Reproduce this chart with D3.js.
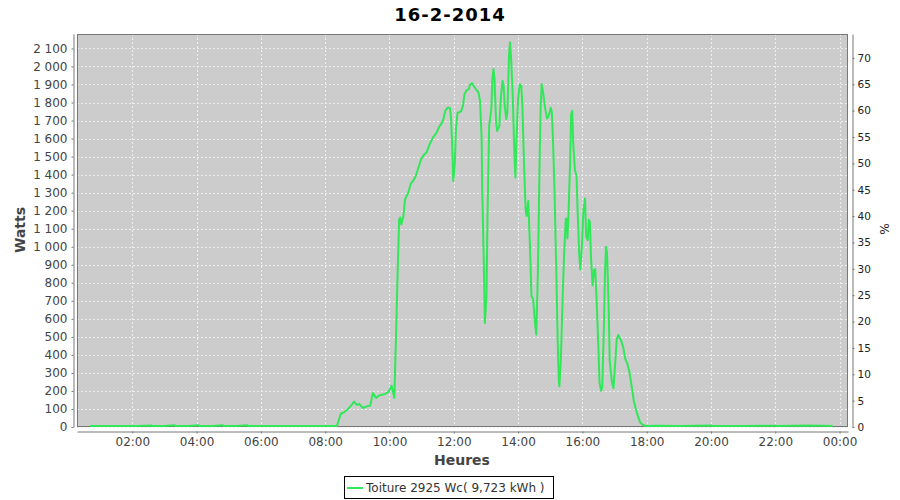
<!DOCTYPE html>
<html><head><meta charset="utf-8">
<script src="https://cdn.jsdelivr.net/npm/d3@7"></script>
<style>body{margin:0;background:#fff}svg{display:block;font-family:"DejaVu Sans",sans-serif}</style>
</head><body><svg id="c" width="900" height="500"></svg>
<script>
const chartTitle = "16-2-2014";
const seriesName = "Toiture 2925 Wc( 9,723 kWh )";
const peakPower = 2925;
const xLabel = "Heures";
const yLabel = "Watts";
const y2Label = "%";
const xTicks = [120, 240, 360, 480, 600, 720, 840, 960, 1080, 1200, 1320, 1440];
const yTicks = [0,100,200,300,400,500,600,700,800,900,1000,1100,1200,1300,1400,1500,1600,1700,1800,1900,2000,2100];
const pctTicks = [0,5,10,15,20,25,30,35,40,45,50,55,60,65,70];

// minutes since midnight
const times = [
  41,70,100,130,155,158,180,198,201,225,243,246,270,288,291,315,334,337,360,400,440,480,502,
  509,515,520,527,534,539,544,550,558,564,
  569,575,581,592,598,604,609,612,615,618,
  620,622,626,629,632,635,640,644,649,653,
  659,664,669,675,681,688,692,698,701,704,
  709,713,715,717,719,722,724,727,730,734,
  737,740,744,748,750,754,757,761,766,769,
  772,773,776,778,781,783,786,790,792,794,
  796,799,801,805,808,811,813,815,818,820,
  823,825,827,830,833,835,837,840,843,846,
  848,851,854,856,859,862,865,868,872,874,
  877,880,882,884,887,890,894,897,901,903,
  905,908,911,914,916,917,920,923,926,929,
  931,932,934,937,939,941,943,946,949,951,
  954,956,959,962,965,967,970,972,974,976,
  979,982,984,987,990,992,995,997,1000,1002,
  1004,1006,1009,1011,1015,1018,1021,1024,1027,1032,
  1036,1040,1044,1048,1052,1056,1061,1064,1068,1073,
  1078,1100,1140,1200,1203,1260,1320,1323,1380,1427
];
const watts = [
  0,0,0,0,3,0,0,4,0,0,4,0,0,4,0,0,4,0,0,0,0,0,0,
  68,76,87,109,135,117,122,100,109,113,
  183,156,170,178,189,224,156,480,832,1146,
  1156,1118,1165,1257,1276,1294,1346,1359,1387,1424,
  1480,1504,1517,1563,1600,1628,1656,1683,1706,1748,
  1767,1763,1702,1554,1359,1461,1646,1739,1739,1748,
  1776,1841,1863,1869,1891,1902,1887,1869,1850,1804,
  1591,1313,906,572,720,1183,1665,1757,1924,1980,
  1924,1683,1637,1665,1831,1915,1887,1776,1702,1739,
  2054,2128,2035,1831,1517,1378,1591,1813,1896,1887,
  1776,1461,1202,1165,1248,1010,720,705,560,507,
  860,1443,1760,1896,1845,1770,1705,1720,1765,1740,
  1600,1300,900,460,250,220,380,700,960,1150,
  1150,1040,1165,1460,1730,1748,1560,1420,1390,1200,
  960,868,990,1200,1262,1050,1030,1144,1130,940,
  780,867,870,663,420,240,195,215,530,830,
  995,960,663,360,245,210,340,480,505,475,
  440,372,345,295,220,140,78,52,19,6,
  0,2,0,3,0,0,2,0,3,0
];

const svg = d3.select("#c");
const L = 77, R = 848, T = 34, B = 427;
const yMax = 2180;
const x = d3.scaleLinear().domain([16.8, 1455.7]).range([L, R]);
const y = d3.scaleLinear().domain([0, yMax]).range([B, T]);
const yP = d3.scaleLinear().domain([0, yMax / peakPower * 100]).range([B, T]);

const fr = d3.formatLocale({decimal: ",", thousands: "\u00a0", grouping: [3], currency: ["", " €"]});
const fmtW = fr.format(",");
const fmtT = m => { const h = Math.floor(m / 60) % 24, mm = m % 60; return String(h).padStart(2, "0") + ":" + String(mm).padStart(2, "0"); };

// title
svg.append("text").attr("x", 450).attr("y", 21).attr("text-anchor", "middle")
  .attr("font-size", 18).attr("font-weight", "bold").attr("letter-spacing", 1).attr("fill", "#000").text(chartTitle);

// plot background
svg.append("rect").attr("x", L).attr("y", T).attr("width", R - L).attr("height", B - T).attr("fill", "#cccccc");

// gridlines
const g = svg.append("g").attr("stroke", "#eeeeee").attr("stroke-width", 1).attr("stroke-dasharray", "2,2");
yTicks.forEach(v => g.append("line").attr("x1", L).attr("x2", R).attr("y1", Math.round(y(v)) + 0.5).attr("y2", Math.round(y(v)) + 0.5));
xTicks.forEach(v => g.append("line").attr("y1", T).attr("y2", B).attr("x1", Math.round(x(v)) + 0.5).attr("x2", Math.round(x(v)) + 0.5));

// plot border
svg.append("rect").attr("x", L + 0.5).attr("y", T + 0.5).attr("width", R - L - 1).attr("height", B - T - 1)
  .attr("fill", "none").attr("stroke", "#777");

// series line (drawn over the border so the zero baseline shows)
svg.append("clipPath").attr("id", "clip").append("rect").attr("x", L).attr("y", T - 2).attr("width", R - L).attr("height", B - T + 3);
const pts = times.map((t, i) => [t, watts[i]]);
svg.append("path").datum(pts).attr("clip-path", "url(#clip)")
  .attr("fill", "none").attr("stroke", "#30e858").attr("stroke-width", 2).attr("stroke-linejoin", "round")
  .attr("d", d3.line().x(d => x(d[0])).y(d => y(d[1]) - 1));

// left axis
const ya = svg.append("g").attr("transform", "translate(73.5,0)")
  .call(d3.axisLeft(y).tickValues(yTicks).tickFormat(fmtW).tickSize(2).tickSizeOuter(0).tickPadding(4));
ya.selectAll("text").attr("font-size", 12).attr("fill", "#444").attr("font-family", "DejaVu Sans");
ya.selectAll("line,path").attr("stroke", "#777");

// bottom axis
const xa = svg.append("g").attr("transform", "translate(0,431.5)")
  .call(d3.axisBottom(x).tickValues(xTicks).tickFormat(fmtT).tickSize(2).tickSizeOuter(0).tickPadding(4));
xa.selectAll("text").attr("font-size", 12).attr("fill", "#444").attr("font-family", "DejaVu Sans");
xa.selectAll("line,path").attr("stroke", "#777");

// right axis
const ra = svg.append("g").attr("transform", "translate(852.5,0)")
  .call(d3.axisRight(yP).tickValues(pctTicks).tickSize(2).tickSizeOuter(0).tickPadding(3));
ra.selectAll("text").attr("font-size", 10.5).attr("fill", "#222").attr("font-family", "DejaVu Sans");
ra.selectAll("line,path").attr("stroke", "#777");

// axis labels
svg.append("text").attr("transform", "translate(25,230) rotate(-90)").attr("text-anchor", "middle")
  .attr("font-size", 14).attr("font-weight", "bold").attr("fill", "#444").text(yLabel);
svg.append("text").attr("x", 462).attr("y", 465).attr("text-anchor", "middle")
  .attr("font-size", 14).attr("font-weight", "bold").attr("fill", "#444").text(xLabel);
svg.append("text").attr("transform", "translate(880,229) rotate(90)").attr("text-anchor", "middle")
  .attr("font-size", 12).attr("fill", "#222").text(y2Label);

// legend
svg.append("rect").attr("x", 344.5).attr("y", 476.5).attr("width", 209).attr("height", 22)
  .attr("fill", "#fff").attr("stroke", "#000");
svg.append("line").attr("x1", 347).attr("x2", 363).attr("y1", 488).attr("y2", 488)
  .attr("stroke", "#30e858").attr("stroke-width", 2);
svg.append("text").attr("x", 366).attr("y", 492).attr("font-size", 12).attr("fill", "#333").text(seriesName);
</script></body></html>
